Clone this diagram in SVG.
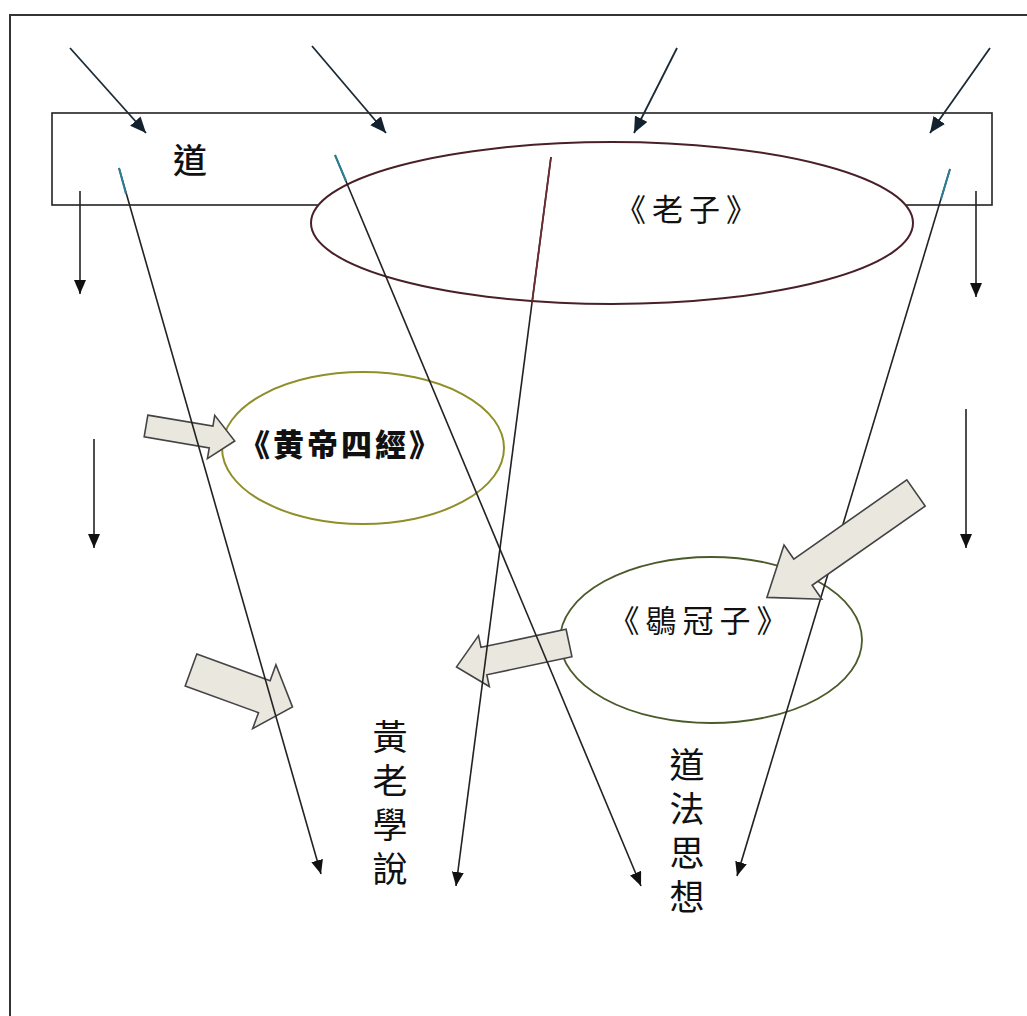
<svg xmlns="http://www.w3.org/2000/svg" width="1027" height="1016" viewBox="0 0 1027 1016">
<style>
.ln{stroke:#222;stroke-width:1.6;fill:none}
.tp{stroke:#1c2a36;stroke-width:1.8;fill:none}
.ba{fill:#e9e7de;stroke:#444;stroke-width:1.6}
.cjk{font-family:"Noto Sans CJK TC","Noto Sans CJK SC",sans-serif;fill:#111}
.vt{font-size:35px;writing-mode:vertical-rl;letter-spacing:9px}
.teal{stroke:#2a7f96;stroke-width:2;fill:none}
</style>
<defs>
<marker id="ah" markerUnits="userSpaceOnUse" markerWidth="14" markerHeight="12" refX="14" refY="6" orient="auto">
<path d="M0,0 L14,6 L0,12 z" fill="#111"/>
</marker>
<marker id="ah2" markerUnits="userSpaceOnUse" markerWidth="16" markerHeight="14" refX="16" refY="7" orient="auto">
<path d="M0,0 L16,7 L0,14 z" fill="#13222e"/>
</marker>
</defs>
<rect width="1027" height="1016" fill="#fff"/>
<rect x="10" y="15" width="1040" height="1020" fill="none" stroke="#333" stroke-width="2"/>

<g id="node-dao">
<rect x="52" y="113" width="940" height="92" fill="#fff" stroke="#222" stroke-width="1.6"/>
<text class="cjk" x="190" y="173" font-size="34" font-weight="500" text-anchor="middle">道</text>
</g>

<g id="node-laozi">
<ellipse cx="612" cy="223" rx="301" ry="81" fill="#fff" stroke="#4a2028" stroke-width="2"/>
<text class="cjk" x="689" y="221" font-size="31" text-anchor="middle" letter-spacing="6">《老子》</text>
</g>

<g id="node-huangdi">
<ellipse cx="363" cy="448" rx="141" ry="76" fill="#fff" stroke="#8f8f2a" stroke-width="2"/>
<text class="cjk" x="341" y="456" font-size="31" font-weight="900" text-anchor="middle" letter-spacing="3">《黄帝四經》</text>
</g>

<g id="node-heguanzi">
<ellipse cx="711" cy="640" rx="151" ry="83" fill="#fff" stroke="#4a5a2a" stroke-width="1.8"/>
<text class="cjk" x="701" y="632" font-size="31" text-anchor="middle" letter-spacing="6">《鶡冠子》</text>
</g>

<g id="node-huanglao">
<text class="cjk vt" x="390" y="719">黃老學說</text>
</g>

<g id="node-daofa">
<text class="cjk vt" x="687" y="747">道法思想</text>
</g>

<g id="block-arrows-under">
<polygon class="ba" transform="translate(146,426) rotate(9.6)" points="0,-11 66,-11 66,-22 90,0 66,22 66,11 0,11"/>
<polygon class="ba" transform="translate(191,670) rotate(20)" points="0,-17 78,-17 78,-34 108,0 78,34 78,17 0,17"/>
<polygon class="ba" transform="translate(569,643) rotate(168)" points="0,-14 87,-14 87,-26 115,0 87,26 87,14 0,14"/>
</g>

<g id="connectors">
<line class="tp" x1="70" y1="48" x2="146" y2="133" marker-end="url(#ah2)"/>
<line class="tp" x1="312" y1="46" x2="386" y2="133" marker-end="url(#ah2)"/>
<line class="tp" x1="677" y1="48" x2="634" y2="133" marker-end="url(#ah2)"/>
<line class="tp" x1="990" y1="48" x2="930" y2="133" marker-end="url(#ah2)"/>

<line class="ln" x1="80" y1="191" x2="80" y2="294" marker-end="url(#ah)"/>
<line class="ln" x1="976" y1="191" x2="976" y2="297" marker-end="url(#ah)"/>
<line class="ln" x1="94" y1="439" x2="94" y2="548" marker-end="url(#ah)"/>
<line class="ln" x1="966" y1="409" x2="966" y2="548" marker-end="url(#ah)"/>

<line class="ln" x1="119" y1="168" x2="321" y2="874" marker-end="url(#ah)"/>
<line class="ln" x1="335" y1="155" x2="641" y2="886" marker-end="url(#ah)"/>
<line class="ln" x1="551" y1="157" x2="456" y2="886" marker-end="url(#ah)"/>
<line class="ln" x1="950" y1="169" x2="737" y2="876" marker-end="url(#ah)"/>

<line class="teal" x1="119" y1="168" x2="126" y2="194"/>
<line class="teal" x1="335" y1="155" x2="346" y2="181"/>
<line class="teal" x1="950" y1="169" x2="941" y2="199"/>
<line x1="551" y1="157" x2="532" y2="303" stroke="#6a2a30" stroke-width="1.8"/>
</g>

<g id="block-arrow-over">
<polygon class="ba" transform="translate(916,493) rotate(145)" points="0,-16 138,-16 138,-33 182,0 138,33 138,16 0,16"/>
</g>
</svg>
